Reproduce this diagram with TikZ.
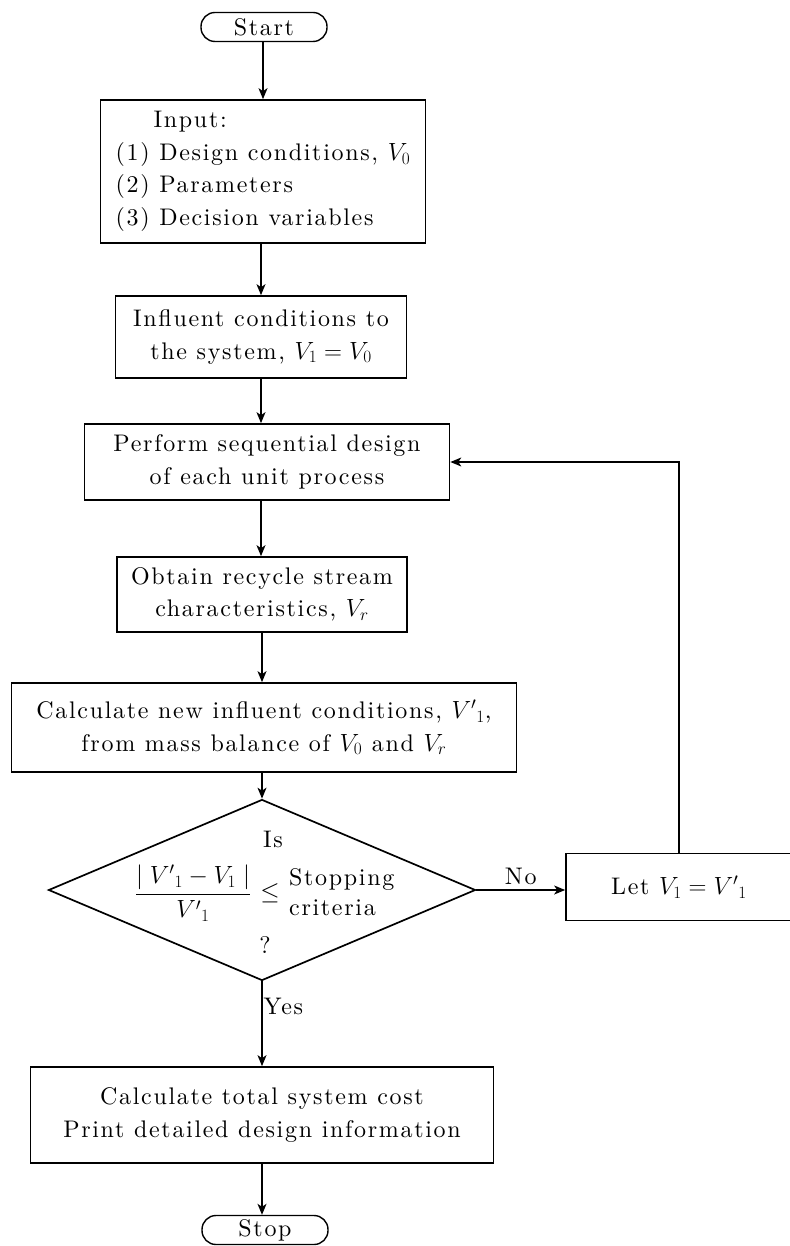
\documentclass[tikz,border=0pt]{standalone}
\usepackage{amsmath,amssymb}
\usepackage{fontspec}
\setmainfont{lmroman10-regular.otf}[ItalicFont=lmroman10-italic.otf, BoldFont=lmroman10-bold.otf, LetterSpace=7]
\usepackage{tikz}
\usetikzlibrary{positioning,arrows.meta,shapes.geometric}

\begin{document}
\begin{tikzpicture}[
  x=1pt, y=-1pt,
  font=\fontsize{24}{32.5}\selectfont,
  proc/.style={draw, line width=1.7pt, align=center, inner sep=0pt, minimum width=#1},
  term/.style={draw, line width=1.4pt, rounded corners=14pt, minimum width=126pt, minimum height=29pt, inner sep=0pt},
  dec/.style={draw, diamond, line width=1.7pt, minimum width=427pt, minimum height=181pt, inner sep=0pt},
  link/.style={-{Stealth[length=11pt, width=9pt, inset=3pt]}, line width=1.3pt},
  tag/.style={inner sep=1pt}
]
  \useasboundingbox (0,0) rectangle (789,1246);

  % Terminals and process boxes (main column)
  \node[term] (start) at (264,27) {Start};
  \node[proc=325pt, minimum height=143pt, align=left] (input) at (263,171.5)
    {\hspace*{38pt}Input:\\(1) Design conditions, $V_0$\\(2) Parameters\\(3) Decision variables};
  \node[proc=291pt, minimum height=82pt] (infl) at (261,337)
    {Influent conditions to\\the system, $V_1 = V_0$};
  \node[proc=365pt, minimum height=76pt] (perf) at (267,462)
    {Perform sequential design\\of each unit process};
  \node[proc=290pt, minimum height=75pt] (recy) at (262,594.5)
    {Obtain recycle stream\\characteristics, $V_r$};
  \node[proc=505pt, minimum height=89pt] (newin) at (264,727.5)
    {Calculate new influent conditions, ${V'}_1$,\\from mass balance of $V_0$ and $V_r$};

  % Decision diamond and its text
  \node[dec] (test) at (262,890) {};
  \node[tag] (is) at (273,839) {Is};
  \node[tag] (frac) at (193,893) {$\dfrac{|\;{V'}_1 - V_1\;|}{{V'}_1}$};
  \node[tag] (le) at (270,893) {$\leq$};
  \node[tag, anchor=west, align=left, font=\fontsize{24}{30}\selectfont] (crit) at (288,892) {Stopping\\criteria};
  \node[tag] (qm) at (265,945) {?};

  % Update box (cut by the right edge)
  \node[proc=226pt, minimum height=67pt] (upd) at (679,887) {Let $V_1 = {V'}_1$};

  \node[proc=463pt, minimum height=96pt] (cost) at (262,1115)
    {Calculate total system cost\\Print detailed design information};
  \node[term] (stop) at (265,1230) {Stop};

  % Main flow
  \draw[link] (input.north |- start.south) -- (input.north);
  \draw[link] (input.south -| infl.north) -- (infl.north);
  \draw[link] (infl) -- (infl |- perf.north);
  \draw[link] (infl |- perf.south) -- (infl |- recy.north);
  \draw[link] (recy) -- (recy |- newin.north);
  \draw[link] (recy |- newin.south) -- (test);
  \draw[link] (test) -- node[tag, anchor=west, pos=0.3] (yes) {Yes} (cost);
  \draw[link] (cost) -- (stop.north -| cost.south);

  % Loop back
  \draw[link] (test.east) -- node[tag, above=4pt] (no) {No} (test.east -| upd.west);
  \draw[link] (upd.north) |- (perf.east);

\end{tikzpicture}
\end{document}
